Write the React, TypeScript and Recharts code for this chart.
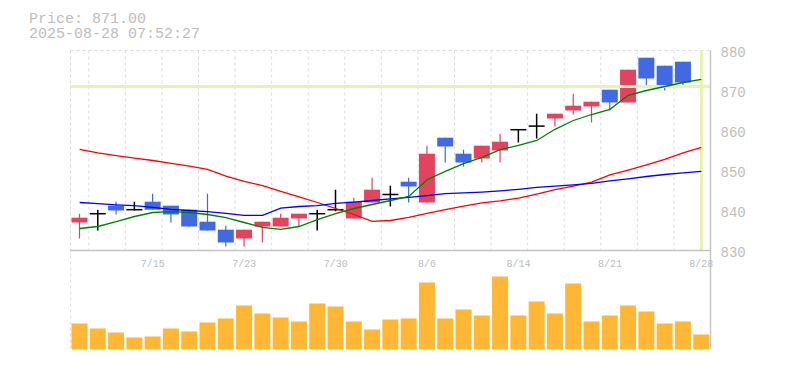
import React from "react";
import {
  ComposedChart,
  Bar,
  Line,
  XAxis,
  YAxis,
  CartesianGrid,
  ReferenceLine
} from "recharts";

const dates = [
  "7/9", "7/10", "7/11", "7/14", "7/15", "7/16", "7/17", "7/18", "7/22", "7/23",
  "7/24", "7/25", "7/28", "7/29", "7/30", "7/31", "8/1", "8/4", "8/5", "8/6",
  "8/7", "8/8", "8/12", "8/13", "8/14", "8/15", "8/18", "8/19", "8/20", "8/21",
  "8/22", "8/25", "8/26", "8/27", "8/28"
];

const opens = [
  837, 839.2, 841.2, 840.2, 842.2, 841.2, 840.2, 837.2, 835.2, 833,
  836, 836, 838, 839.2, 840.2, 838, 842, 844, 847.2, 842,
  858.2, 854.2, 853, 855, 860.2, 861.1, 863, 865, 866, 870.2,
  867, 878.2, 876.2, 877.2, 871
];
const closes = [
  838.2, 839.2, 840, 840.2, 840.2, 839, 836, 835, 832, 835.2,
  837.2, 838.2, 839.2, 839.2, 840.2, 842.2, 845.2, 844, 846, 854.2,
  856, 852, 856.2, 857.2, 860.2, 861.1, 864.2, 866.2, 867.2, 867,
  875.2, 873, 871, 872, 871
];
const highs = [
  839.2, 840.2, 842.2, 842.2, 844.2, 841.2, 840.2, 844.2, 836.2, 835.2,
  837.2, 839.2, 839.2, 840.2, 845.2, 843.2, 848.2, 846.2, 848.2, 856.2,
  858.2, 855.2, 856.2, 859.2, 860.2, 864.2, 864.2, 869.2, 867.2, 870.2,
  875.2, 878.2, 876.2, 877.2, 872
];
const lows = [
  833, 835, 839, 840, 840.2, 837, 836, 835, 831, 831,
  832, 836, 836, 835, 839.8, 838, 842, 841, 842, 842,
  852, 851, 852, 852, 857, 858, 861, 864, 862, 865,
  867, 871, 870, 871, 870
];

// moving averages
const ma5 = [
  835.5, 836, 837.2, 838.5, 839.5, 839.7, 839.5, 839, 838.2, 837,
  835.8, 835.3, 836, 837.7, 839.2, 840.5, 841.5, 842.5, 843.5, 847.7,
  849.8, 851.7, 853.3, 855.2, 856.3, 857.5, 860.3, 862.5, 864, 865.3,
  868.8, 870, 871, 872, 872.8
];
const ma25 = [
  842, 841.7, 841.4, 841.2, 840.8, 840.3, 840, 839.7, 839.3, 838.8,
  838.8, 840.6, 841, 841.2, 841.8, 842.1, 842.5, 842.9, 843.3, 843.7,
  844.2, 844.4, 844.6, 844.9, 845.3, 845.8, 846.1, 846.4, 846.8, 847.4,
  847.9, 848.5, 849, 849.4, 849.8
];
const ma75 = [
  855.3, 854.4, 853.7, 853.1, 852.5, 851.8, 851.1, 850.3, 848.6, 847.3,
  846.2, 844.8, 843.4, 842, 840.5, 839, 837.3, 837.5, 838.3, 839.3,
  840.2, 841.1, 841.9, 842.4, 843.1, 844.1, 845.2, 846.1, 847.1, 848.9,
  850.1, 851.4, 852.8, 854.4, 855.8
];

const volumes = [
  260, 210, 170, 120, 130, 210, 180, 270, 310, 440,
  360, 320, 280, 460, 430, 280, 200, 300, 310, 670,
  310, 400, 340, 730, 340, 480, 360, 660, 280, 340,
  440, 380, 260, 280, 150
];

const priceTicks = [830, 840, 850, 860, 870, 880];
const dateTicks = [4, 9, 14, 19, 24, 29, 34];
const lastPrice = 871;

const rows = dates.map((d, i) => ({
  i,
  date: d,
  open: opens[i],
  close: closes[i],
  high: highs[i],
  low: lows[i],
  range: [lows[i], highs[i]],
  ma5: ma5[i],
  ma25: ma25[i],
  ma75: ma75[i],
  vol: volumes[i]
}));

const xDomain = [-0.5, dates.length - 0.5];
const cellEdges = Array.from({ length: dates.length + 1 }, (_, k) => k - 0.5);
const gridRows = Array.from({ length: 12 }, (_, k) => k);

const FONT = "'Liberation Mono', 'DejaVu Sans Mono', monospace";
const GRID = "#dcdcdc";
const AXIS = "#c4c4c4";
const LABEL = "#bdbdbd";

const Candle = (props: any) => {
  const { x, y, width, height, payload } = props;
  const { open, close, high, low } = payload;
  const top = Math.min(y, y + height);
  const h = Math.abs(height);
  const px = (v: number) => top + ((high - v) / (high - low)) * h;
  const cx = x + width / 2;
  const flat = open === close;
  const color = flat ? "#000000" : close > open ? "#e2435f" : "#4169e1";
  const bodyTop = px(Math.max(open, close));
  const bodyBottom = px(Math.min(open, close));
  return (
    <g>
      <line x1={cx} x2={cx} y1={top} y2={top + h} stroke={color} strokeWidth={flat ? 1.5 : 1.2} />
      {flat ? (
        <line x1={x} x2={x + width} y1={bodyTop} y2={bodyTop} stroke={color} strokeWidth={1.5} />
      ) : (
        <rect x={x} y={bodyTop} width={width} height={Math.max(bodyBottom - bodyTop, 1)} fill={color} />
      )}
    </g>
  );
};

function App() {
  return (
    <div style={{ position: "absolute", left: 0, top: 0, width: 785, height: 370, background: "#fff" }}>
      <div
        style={{
          position: "absolute",
          left: 29,
          top: 12,
          fontFamily: FONT,
          fontSize: 15,
          lineHeight: "15px",
          color: LABEL,
          whiteSpace: "pre"
        }}
      >
        {`Price: ${lastPrice.toFixed(2)}\n2025-08-28 07:52:27`}
      </div>

      {/* volume panel */}
      <div style={{ position: "absolute", left: 0, top: 0 }}>
        <ComposedChart
          width={785}
          height={370}
          data={rows}
          margin={{ top: 249.5, right: 0, bottom: 20.5, left: 70.5 }}
        >
          <XAxis
            xAxisId="g"
            dataKey="i"
            type="number"
            domain={xDomain}
            ticks={cellEdges}
            tick={false}
            tickLine={false}
            height={0}
            axisLine={{ stroke: AXIS, strokeWidth: 1.5 }}
          />
          <YAxis
            yAxisId="v"
            orientation="right"
            domain={[0, 1000]}
            tick={false}
            tickLine={false}
            width={74.5}
            axisLine={{ stroke: AXIS, strokeWidth: 1.5 }}
          />
          <CartesianGrid
            xAxisId="g"
            yAxisId="v"
            horizontal={false}
            stroke={GRID}
            strokeDasharray="3 3"
          />
          <Bar
            xAxisId="g"
            yAxisId="v"
            dataKey="vol"
            fill="#ffb735"
            barSize={16}
            isAnimationActive={false}
          />
        </ComposedChart>
      </div>

      {/* price panel */}
      <div style={{ position: "absolute", left: 0, top: 0 }}>
        <ComposedChart
          width={785}
          height={280}
          data={rows}
          margin={{ top: 50.5, right: 0, bottom: 0, left: 70.5 }}
        >
          <XAxis
            xAxisId="x"
            dataKey="i"
            type="number"
            domain={xDomain}
            ticks={dateTicks}
            tickFormatter={(v: number) => dates[v]}
            tickLine={false}
            tickSize={0}
            tickMargin={9}
            height={29.5}
            axisLine={{ stroke: AXIS, strokeWidth: 1.5 }}
            tick={{ fill: LABEL, fontSize: 10, fontFamily: FONT }}
          />
          <YAxis
            yAxisId="p"
            orientation="right"
            domain={[830, 880]}
            ticks={priceTicks}
            tickLine={false}
            tickSize={0}
            tickMargin={10}
            width={74.5}
            axisLine={{ stroke: AXIS, strokeWidth: 1.5 }}
            tick={{ fill: LABEL, fontSize: 14, fontFamily: FONT, dy: 2 }}
          />
          <XAxis
            xAxisId="g"
            dataKey="i"
            type="number"
            domain={xDomain}
            ticks={cellEdges}
            height={0}
            hide
          />
          <YAxis yAxisId="g" domain={[0, 11]} ticks={gridRows} width={0} hide />
          <CartesianGrid
            xAxisId="g"
            yAxisId="g"
            stroke={GRID}
            strokeDasharray="3 3"
          />
          <ReferenceLine xAxisId="x" yAxisId="p" y={lastPrice} stroke="#e6f5aa" strokeWidth={3} />
          <ReferenceLine xAxisId="x" yAxisId="p" x={dates.length - 1} stroke="#e6f5aa" strokeWidth={3} />
          <Bar
            xAxisId="x"
            yAxisId="p"
            dataKey="range"
            barSize={16}
            shape={Candle}
            isAnimationActive={false}
          />
          <Line xAxisId="x" yAxisId="p" dataKey="ma75" stroke="#ff0000" strokeWidth={1.3} dot={false} isAnimationActive={false} />
          <Line xAxisId="x" yAxisId="p" dataKey="ma25" stroke="#0000ff" strokeWidth={1.3} dot={false} isAnimationActive={false} />
          <Line xAxisId="x" yAxisId="p" dataKey="ma5" stroke="#008000" strokeWidth={1.3} dot={false} isAnimationActive={false} />
        </ComposedChart>
      </div>
    </div>
  );
}

export default App;
